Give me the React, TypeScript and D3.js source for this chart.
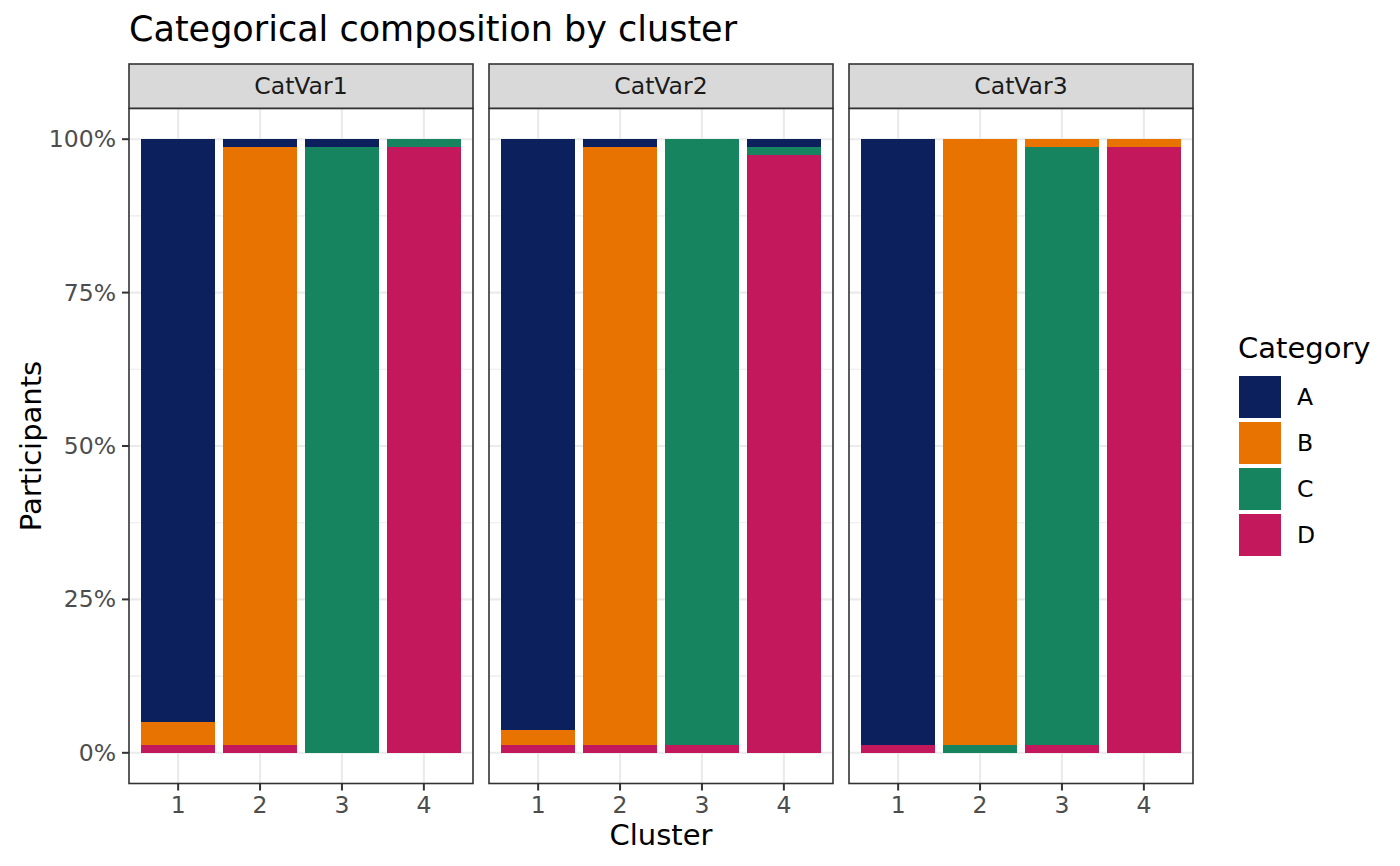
import * as d3 from "d3";

const TITLE = {
  text: "Categorical composition by cluster",
  x: 129,
  y: 41,
  fontSize: 35,
  color: "#000",
};

const FONT = "'DejaVu Sans', sans-serif";

const PANEL = {
  xs: [129, 489, 849],
  width: 344,
  top: 108.5,
  bottom: 783.5,
  stripTop: 64,
  border: "#333333",
  borderWidth: 1.6,
  stripFill: "#D9D9D9",
  grid: "#EBEBEB",
  gridMajor: 2.1,
  gridMinor: 1.1,
};

const AXIS = {
  fontSize: 23.5,
  color: "#4D4D4D",
  tickColor: "#333333",
  tickSize: 7,
  tickWidth: 2,
  labelGap: 4,
  titleSize: 29,
};

const LEGEND = {
  x: 1239,
  titleY: 358,
  keysTop: 374,
  keyStep: 46,
  keySize: 42,
  labelX: 1297,
  fontSize: 23.5,
  titleSize: 29,
};

// data (percent of participants per cluster)
const clusters = ["1", "2", "3", "4"];
const categories = ["A", "B", "C", "D"];
const colors = ["#0C205E", "#E87300", "#16845F", "#C3185B"];
const variables = ["CatVar1", "CatVar2", "CatVar3"];

const catVar1A = [95, 1.25, 1.25, 0];
const catVar1B = [3.75, 97.5, 0, 0];
const catVar1C = [0, 0, 98.75, 1.25];
const catVar1D = [1.25, 1.25, 0, 98.75];

const catVar2A = [96.25, 1.25, 0, 1.25];
const catVar2B = [2.5, 97.5, 0, 0];
const catVar2C = [0, 0, 98.75, 1.25];
const catVar2D = [1.25, 1.25, 1.25, 97.5];

const catVar3A = [98.75, 0, 0, 0];
const catVar3B = [0, 98.75, 1.25, 1.25];
const catVar3C = [0, 1.25, 97.5, 0];
const catVar3D = [1.25, 0, 1.25, 98.75];

const yTicks = [0, 25, 50, 75, 100];
const yMinor = [12.5, 37.5, 62.5, 87.5];

type Row = { cluster: string; [k: string]: number | string };

function buildRows(A: number[], B: number[], C: number[], D: number[]): Row[] {
  return clusters.map((cluster, i) => ({
    cluster,
    A: A[i],
    B: B[i],
    C: C[i],
    D: D[i],
  }));
}

const panelData: Row[][] = [
  buildRows(catVar1A, catVar1B, catVar1C, catVar1D),
  buildRows(catVar2A, catVar2B, catVar2C, catVar2D),
  buildRows(catVar3A, catVar3B, catVar3C, catVar3D),
];

const color = d3.scaleOrdinal<string, string>().domain(categories).range(colors);

const yScale = d3
  .scaleLinear()
  .domain([-5, 105])
  .range([PANEL.bottom, PANEL.top]);

const xScale = d3
  .scaleBand<string>()
  .domain(clusters)
  .range([0, PANEL.width])
  .paddingInner(0.1)
  .paddingOuter(0.15);

// D at the bottom, A on top (ggplot stacking order)
const stack = d3
  .stack<Row>()
  .keys(["D", "C", "B", "A"])
  .value((d, key) => d[key] as number);

function Panel({ x0, name, rows }: { x0: number; name: string; rows: Row[] }) {
  const series = stack(rows);
  const h = PANEL.bottom - PANEL.top;
  return (
    <g className="panel">
      {/* strip */}
      <rect
        x={x0}
        y={PANEL.stripTop}
        width={PANEL.width}
        height={PANEL.top - PANEL.stripTop}
        fill={PANEL.stripFill}
        stroke={PANEL.border}
        strokeWidth={PANEL.borderWidth}
      />
      <text
        x={x0 + PANEL.width / 2}
        y={(PANEL.stripTop + PANEL.top) / 2}
        fontSize={AXIS.fontSize}
        fontFamily={FONT}
        fill="#1A1A1A"
        textAnchor="middle"
        dominantBaseline="central"
      >
        {name}
      </text>
      <rect x={x0} y={PANEL.top} width={PANEL.width} height={h} fill="#fff" />
      {/* grid */}
      {yMinor.map((t) => (
        <line
          key={"m" + t}
          x1={x0}
          x2={x0 + PANEL.width}
          y1={yScale(t)}
          y2={yScale(t)}
          stroke={PANEL.grid}
          strokeWidth={PANEL.gridMinor}
        />
      ))}
      {yTicks.map((t) => (
        <line
          key={"M" + t}
          x1={x0}
          x2={x0 + PANEL.width}
          y1={yScale(t)}
          y2={yScale(t)}
          stroke={PANEL.grid}
          strokeWidth={PANEL.gridMajor}
        />
      ))}
      {clusters.map((c) => {
        const cx = x0 + xScale(c)! + xScale.bandwidth() / 2;
        return (
          <line
            key={"x" + c}
            x1={cx}
            x2={cx}
            y1={PANEL.top}
            y2={PANEL.bottom}
            stroke={PANEL.grid}
            strokeWidth={PANEL.gridMajor}
          />
        );
      })}
      {/* bars */}
      {series.map((s) => (
        <g key={s.key} shapeRendering="crispEdges">
          {s.map((d, i) =>
            d[1] - d[0] > 0 ? (
              <rect
                key={i}
                x={x0 + xScale(d.data.cluster as string)!}
                y={yScale(d[1])}
                width={xScale.bandwidth()}
                height={yScale(d[0]) - yScale(d[1])}
                fill={color(s.key)}
              />
            ) : null,
          )}
        </g>
      ))}
      <rect
        x={x0}
        y={PANEL.top}
        width={PANEL.width}
        height={h}
        fill="none"
        stroke={PANEL.border}
        strokeWidth={PANEL.borderWidth}
      />
      {/* x axis */}
      {clusters.map((c) => {
        const cx = x0 + xScale(c)! + xScale.bandwidth() / 2;
        return (
          <g key={"xt" + c}>
            <line
              x1={cx}
              x2={cx}
              y1={PANEL.bottom}
              y2={PANEL.bottom + AXIS.tickSize}
              stroke={AXIS.tickColor}
              strokeWidth={AXIS.tickWidth}
            />
            <text
              x={cx}
              y={PANEL.bottom + AXIS.tickSize + AXIS.labelGap + 18}
              fontSize={AXIS.fontSize}
              fontFamily={FONT}
              fill={AXIS.color}
              textAnchor="middle"
            >
              {c}
            </text>
          </g>
        );
      })}
    </g>
  );
}

function AxisY({ x0 }: { x0: number }) {
  return (
    <g className="y-axis">
      {yTicks.map((t) => (
        <g key={t}>
          <line
            x1={x0 - AXIS.tickSize}
            x2={x0}
            y1={yScale(t)}
            y2={yScale(t)}
            stroke={AXIS.tickColor}
            strokeWidth={AXIS.tickWidth}
          />
          <text
            x={x0 - AXIS.tickSize - AXIS.labelGap - 2}
            y={yScale(t)}
            fontSize={AXIS.fontSize}
            fontFamily={FONT}
            fill={AXIS.color}
            textAnchor="end"
            dominantBaseline="central"
          >
            {t + "%"}
          </text>
        </g>
      ))}
    </g>
  );
}

function Legend() {
  return (
    <g className="legend">
      <text
        x={LEGEND.x - 1}
        y={LEGEND.titleY}
        fontSize={LEGEND.titleSize}
        fontFamily={FONT}
        fill="#000"
      >
        Category
      </text>
      {categories.map((c, i) => {
        const y = LEGEND.keysTop + i * LEGEND.keyStep;
        return (
          <g key={c}>
            <rect
              x={LEGEND.x}
              y={y + 2}
              width={LEGEND.keySize}
              height={LEGEND.keySize}
              fill={color(c)}
            />
            <text
              x={LEGEND.labelX}
              y={y + 2 + LEGEND.keySize / 2}
              fontSize={LEGEND.fontSize}
              fontFamily={FONT}
              fill="#000"
              dominantBaseline="central"
            >
              {c}
            </text>
          </g>
        );
      })}
    </g>
  );
}

export default function App() {
  const midY = (PANEL.top + PANEL.bottom) / 2;
  const midX = (PANEL.xs[0] + PANEL.xs[2] + PANEL.width) / 2;
  return (
    <svg
      width={1400}
      height={866}
      style={{ position: "absolute", left: 0, top: 0, background: "#fff" }}
      xmlns="http://www.w3.org/2000/svg"
    >
      <rect width={1400} height={866} fill="#fff" />
      <text
        x={TITLE.x}
        y={TITLE.y}
        fontSize={TITLE.fontSize}
        fontFamily={FONT}
        fill={TITLE.color}
      >
        {TITLE.text}
      </text>
      {variables.map((v, i) => (
        <Panel key={v} x0={PANEL.xs[i]} name={v} rows={panelData[i]} />
      ))}
      <AxisY x0={PANEL.xs[0]} />
      <text
        x={midX}
        y={845}
        fontSize={AXIS.titleSize}
        fontFamily={FONT}
        fill="#000"
        textAnchor="middle"
      >
        Cluster
      </text>
      <text
        transform={`translate(41, ${midY}) rotate(-90)`}
        fontSize={AXIS.titleSize}
        fontFamily={FONT}
        fill="#000"
        textAnchor="middle"
      >
        Participants
      </text>
      <Legend />
    </svg>
  );
}
